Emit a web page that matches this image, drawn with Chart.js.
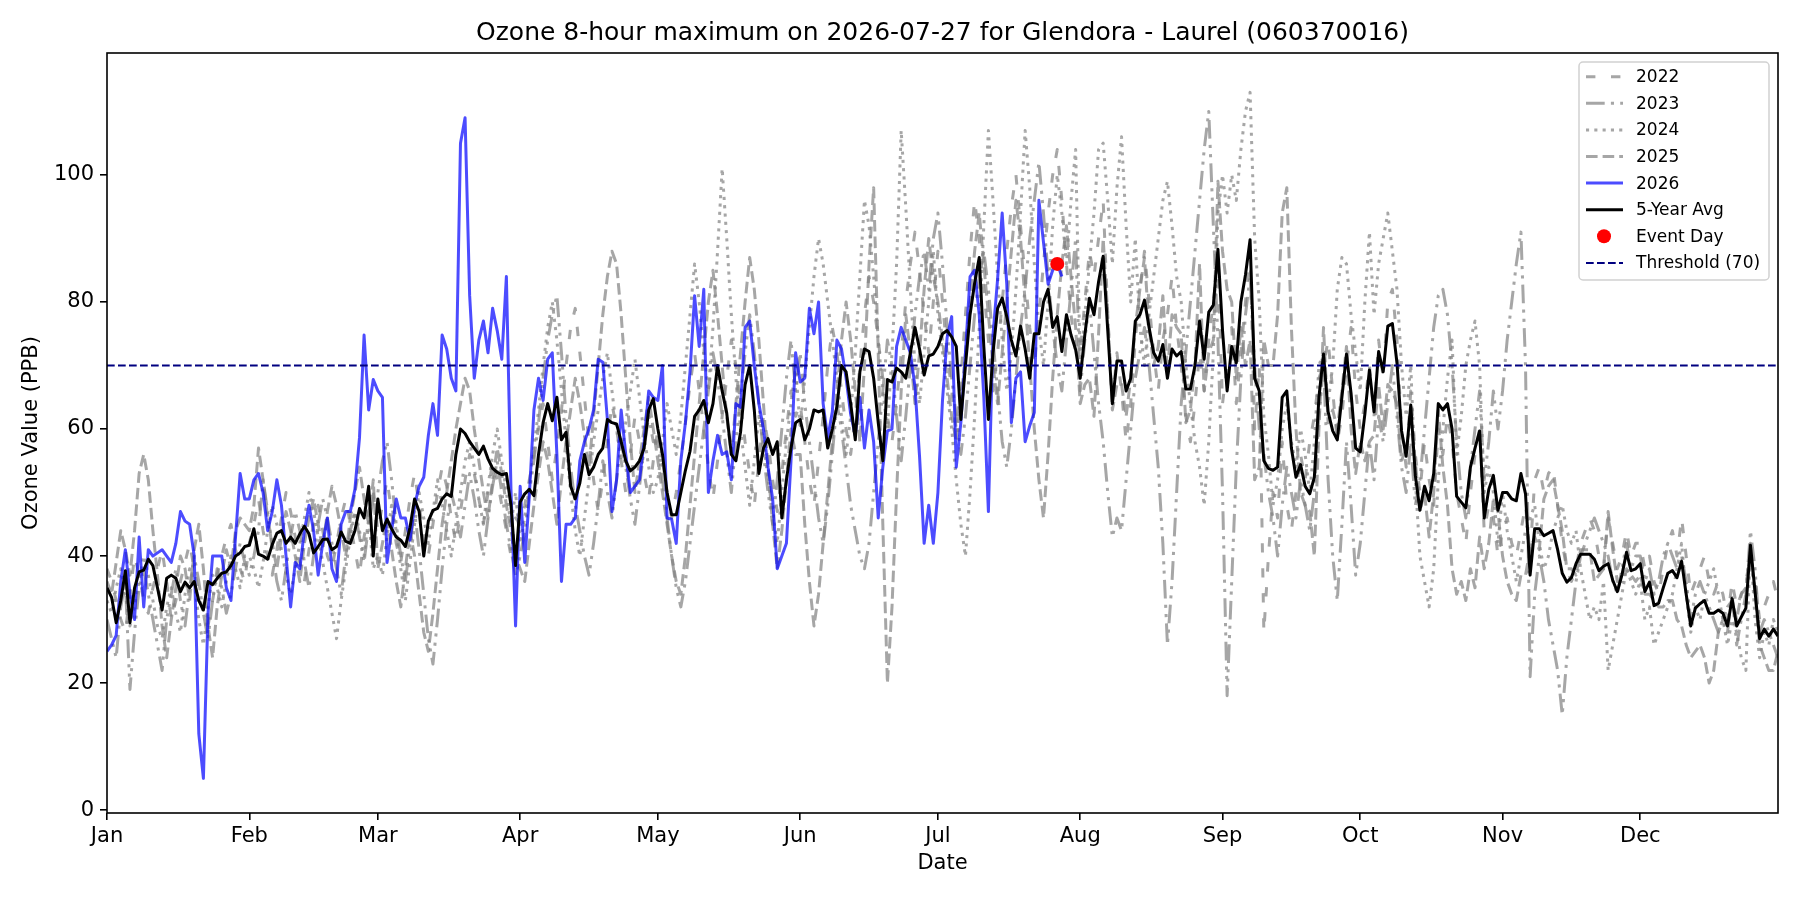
<!DOCTYPE html>
<html><head><meta charset="utf-8">
<script src="https://cdn.jsdelivr.net/npm/chart.js@4.4.1/dist/chart.umd.min.js"></script>
<style>html,body{margin:0;padding:0;background:#fff;}canvas{display:block;}</style>
</head><body>
<canvas id="c" width="1800" height="900"></canvas>
<script>
const TITLE = 'Ozone 8-hour maximum on 2026-07-27 for Glendora - Laurel (060370016)';
const X_LABEL = 'Date';
const Y_LABEL = 'Ozone Value (PPB)';
const MONTH_TICKS = [0,31,59,90,120,151,181,212,243,273,304,334];
const MONTH_LABELS = ['Jan','Feb','Mar','Apr','May','Jun','Jul','Aug','Sep','Oct','Nov','Dec'];
const Y_TICKS = [0,20,40,60,80,100];
const Y_MIN = -0.45, Y_MAX = 119.2, X_MIN = 0, X_MAX = 364;
const THRESHOLD = 70;
const EVENT_DAY = 207;      // 2026-07-27 (day index)
const EVENT_VALUE = 86;

// daily values, Jan 1 .. Dec 31
const Y2022 = [
38,36,33,30,28,34,40,37,33,31,35,38,41,36,30,33,36,39,42,38,34,31,29,33,37,40,43,45,41,38,36,
42,45,49,44,40,37,41,46,50,47,43,39,36,41,45,48,44,40,38,42,46,49,45,41,37,43,47,50,
44,48,52,47,42,39,44,49,53,48,43,40,45,50,54,51,46,42,47,52,56,53,49,45,50,55,52,48,44,40,46,
45,48,52,56,60,64,58,52,57,63,70,76,79,72,65,58,52,47,52,58,64,60,55,50,56,62,58,53,49,55,
60,55,50,46,50,55,61,67,72,66,60,54,49,55,62,68,74,70,64,58,53,48,55,62,58,52,47,53,60,66,62,
64,58,52,48,55,62,70,76,72,66,60,56,62,70,78,84,80,74,68,62,58,64,72,80,86,91,85,78,72,80,
88,80,72,66,60,68,78,88,96,90,82,74,66,72,80,88,95,100,92,84,76,70,78,86,94,100,104,96,86,78,72,
72,80,88,84,90,96,78,64,72,66,58,64,74,82,88,80,72,66,74,78,84,76,70,62,58,64,72,66,74,80,86,
64,70,76,64,72,80,88,60,70,28,40,50,46,58,48,44,50,56,52,58,62,68,70,74,66,58,62,70,76,66,
60,64,70,62,74,68,80,82,74,60,54,66,56,50,58,52,48,60,56,62,58,50,46,42,50,56,60,44,48,46,40,
44,46,42,40,44,48,40,52,54,50,53,54,48,42,38,36,38,42,44,46,44,40,38,46,42,38,40,44,40,42,
42,38,40,36,34,38,42,44,40,46,40,34,36,38,40,36,34,36,34,30,36,32,34,36,40,36,30,32,34,36,33];

const Y2023 = [
30,27,24,32,36,19,28,35,38,34,30,26,22,30,34,38,33,29,35,40,36,31,27,33,38,35,31,34,38,42,39,
37,40,44,52,47,41,36,33,38,43,47,44,39,35,40,45,49,46,42,38,34,40,44,47,43,39,45,49,
50,55,58,52,45,40,36,42,47,41,34,27,23,30,38,45,50,47,43,48,53,49,44,40,46,51,55,50,45,41,37,
40,44,50,55,61,68,74,78,81,72,62,54,48,44,40,37,42,48,55,50,46,52,58,54,49,45,51,57,62,58,
58,52,46,40,35,32,36,42,48,54,60,66,72,68,62,56,50,58,65,72,78,72,64,56,50,45,52,60,68,74,66,
72,64,58,52,46,42,48,56,64,60,54,48,44,40,38,42,50,58,66,74,70,62,55,62,70,78,84,88,82,90,
94,86,76,68,62,56,62,70,78,84,88,82,74,66,58,54,60,68,76,82,90,96,102,94,84,76,70,66,74,82,90,
66,74,80,72,64,58,50,43,46,44,52,60,68,72,76,70,62,54,42,26,36,50,64,72,80,88,96,104,110,92,74,
50,18,36,54,68,78,84,70,60,56,50,46,40,48,54,50,46,52,48,44,50,62,70,52,40,33,45,58,48,37,
42,50,58,52,62,58,64,70,62,54,50,58,48,52,60,68,76,81,82,78,70,58,50,46,54,60,66,52,58,66,60,
66,74,80,86,91,70,21,34,40,36,30,26,22,15,24,30,36,40,42,44,46,44,42,40,36,34,38,42,38,40,
40,36,38,34,36,40,42,40,38,40,36,30,34,36,34,32,30,28,30,28,34,26,30,34,44,38,28,30,28,26,24];

const Y2024 = [
33,31,35,38,34,29,32,36,40,37,33,29,27,32,35,31,28,34,38,36,30,26,32,37,35,32,36,40,38,35,40,
40,38,35,39,44,48,45,41,37,34,38,42,46,50,47,43,39,35,31,27,33,38,43,47,44,40,46,38,
40,37,43,48,44,38,33,39,45,50,46,42,47,52,48,44,40,45,50,55,58,54,49,45,51,56,60,55,50,45,50,
42,46,51,57,63,70,76,80,74,66,58,50,44,40,46,52,58,63,68,72,66,60,55,61,66,71,65,59,54,50,
52,58,64,60,56,62,70,78,86,80,72,66,76,88,101,90,78,68,60,54,48,55,62,58,52,47,42,50,58,64,70,
60,68,76,84,90,86,80,74,68,62,56,62,72,84,96,92,84,74,66,60,72,86,107,95,82,70,64,72,80,88,
78,72,66,60,52,45,40,50,62,76,92,107,96,84,74,66,72,82,94,107,98,86,76,70,80,92,100,94,86,96,104,
70,78,86,94,104,105,96,86,98,106,92,80,90,76,70,78,84,90,96,99,92,84,80,70,64,58,54,48,58,72,94,
100,94,100,96,104,110,113,90,80,62,56,48,52,60,64,58,54,60,56,50,58,70,72,64,70,82,87,86,78,72,
66,80,91,78,86,90,94,88,82,70,62,70,52,40,36,32,38,52,60,68,74,56,62,70,74,77,70,50,54,50,42,
50,44,40,36,40,44,46,48,42,38,40,44,46,48,44,42,44,38,34,30,32,30,36,22,26,30,34,38,36,34,
36,30,32,26,28,30,32,34,38,42,34,28,32,30,34,36,38,34,30,26,30,28,24,22,42,30,24,28,26,30,28];

const Y2025 = [
36,34,39,44,41,37,44,53,56,52,44,37,29,24,30,35,40,38,33,41,45,38,29,24,32,37,41,38,44,46,45,
44,48,57,52,46,42,38,43,47,44,40,36,42,46,49,45,41,47,51,48,44,40,46,50,54,49,45,52,
38,42,46,41,36,32,38,44,40,34,28,25,31,38,45,50,55,60,64,68,66,60,55,50,46,52,57,53,48,44,40,
38,36,42,48,53,58,55,50,45,52,58,63,68,64,59,54,62,70,78,84,88,86,78,68,58,50,55,60,65,60,
55,50,45,40,36,34,40,48,56,64,72,80,85,78,70,62,56,64,72,80,87,82,74,64,54,45,38,44,52,60,56,
56,45,36,29,34,42,50,58,66,74,80,74,66,58,70,86,98,72,45,20,32,50,66,78,72,64,72,82,90,84,
80,74,68,62,58,64,72,80,88,94,86,78,70,64,72,80,88,96,90,80,70,60,52,46,56,68,78,86,92,84,76,
64,67,68,62,75,90,78,63,67,67,62,68,76,82,87,76,70,73,81,69,78,76,75,61,63,70,86,66,72,74,99,
88,82,80,68,76,70,74,52,54,74,70,70,78,94,98,76,60,50,48,47,40,60,76,61,63,60,66,73,60,53,
58,55,58,59,67,60,67,66,64,55,57,61,55,47,50,43,50,63,54,48,38,34,36,33,38,35,43,38,42,49,47,
40,36,34,33,37,37,41,43,41,49,51,52,48,44,38,38,37,41,41,41,36,37,38,47,41,36,36,38,37,36,
37,34,34,33,32,32,33,33,30,29,26,24,25,26,24,20,22,28,30,32,33,30,34,35,41,34,26,24,22,22,25];

// 2026 up to the event window
const Y2026 = [
25,26,27.5,36,41,34,30,43,32,41,
40,40.5,41,40,39,42,47,45.5,45,40,
12,5,31,40,40,40,35,33,43,53,
49,49,52,53,50,44,47,52,48,40,
32,39,38,44,48,44,37,42,46,38,
36,45,47,47,50.5,58.6,74.8,63,67.8,66,
65,39,44,49,46,46,42.5,48,51,52.4,
59,64,59,74.8,72.6,68,66,105,109,81,
68,74,77,72,79,75.5,71,84,50.5,29,
51,39,49.5,63,68,64.5,71,72,56,36,
45,45,46,55,58,60,63,71,70.5,61.5,
47,52,63,56,50,51,52,58,66,65,
64.5,70,46,45.8,42,55,61,69,81,73,
82,50,55,59,56,56.4,52,64,63.4,76,
77,70,64,60,54,49,38,40,42,55,
72,67.4,68,79,75,80,64,58.6,62.7,74,
72.6,68,62.3,59,65,57,63,58,46,54,
59.7,60,73,76,74,72,66.7,55.7,42,48,
42,50,64.5,74.4,77.7,54,61,72,84,85,
78,65,47,74.8,83.6,94,82.8,61,68,69,
58,60.5,62.6,96,89.4,82.8,85,86,84];

const AVG5 = [
35,33.5,29.5,33,37.7,29.5,35,37.5,37.8,39.5,
38.5,35,31.5,36.5,37,36.5,34.4,35.9,35,36,
33,31.5,36,35.5,36.5,37.3,37.5,38.5,40,40.5,
41.5,41.7,44.3,40.3,40,39.5,41.8,43.6,44,42,
43,42,43.5,44.7,43.5,40.5,41.5,42.6,42.7,41,
41.5,43.8,42.3,42,44,47.5,46,51,40,49,
44,45.8,44.3,43,42.5,41.5,44.5,49,47,40,
45.5,47.2,47.5,49,49.8,49.4,56,60,59.3,58,
57,56,57.3,55.3,53.8,53.2,52.8,53,48,38.5,
48.5,49.8,50.5,49.5,56,61,64,61.3,65,58.3,
59.5,51,49,51.5,56,52.8,54,56,57,61.5,
61,60.8,58,55,53.4,54,55,57,63,64.8,
60,56,50,46.5,46.5,50,53.5,56.5,62,63,
64.5,61,64,70,66,62.5,56,55,59.5,67,
70,63,53,57,58.5,56,58,46,52,57,
61,61.5,58.3,60,63,62.7,63,57,60,63.5,
70,69,64,58.3,69,72.6,72.2,68,61,55,
67.8,67.4,69.6,69,68,72,76,72.6,68.5,71.5,
71.8,73,75,75.5,74.5,73,61.5,70,78,83,
87,73,61.5,72,79,80.6,77.7,74,71.5,76.2,
72.6,68,75,75,80,82,76,77.7,72.2,78,
74.8,72.5,68,74.8,80.6,78,83.2,87.2,75.5,64,
70.7,70.7,66,68,77,78,80.3,76,72,70.7,
73.3,68,72.6,71.5,72.2,66.3,66.3,70,77,71,
78.4,79.5,88.3,75.5,66,73,70.4,80,84.3,89.8,
68,66,55,53.8,53.5,54,65,66,57,52.4,
54.4,51,49.8,52.4,65,71.8,62.7,59.7,58.3,65,
71.8,65.6,57,56.4,62.3,69.3,62.7,72.2,69,76.2,
76.6,70.4,59.7,55.7,63.8,52.7,47.2,51,48.7,53,
64,63,64,60,49.4,48.5,47.6,54,57,59.7,
46,50.5,52.7,47.2,50,50,49,48.7,53,49.8,
37,44.3,44.3,43.2,43.6,44,41,37.3,35.9,36.6,
38.8,40.3,40.3,40.3,39.5,37.7,38.4,38.8,36.2,34.4,
37,40.6,37.7,38,38.8,34.4,35.9,32.2,32.6,35,
37.3,37.7,36.6,39.2,34,29,31.8,32.5,33,31,
31,31.5,31,29,33.3,29,30.4,31.8,41.7,34.4,
27,28.5,27.4,28.5,27.4];

const FONT = 'DejaVu Sans';
Chart.defaults.font.family = FONT;
Chart.defaults.color = '#000';

function pts(arr){ return arr.map((v,i)=>({x:i, y:v})); }
const GRAY = 'rgba(128,128,128,0.7)';
const lineBase = {pointRadius:0, pointHoverRadius:0, fill:false, tension:0, borderCapStyle:'butt', borderJoinStyle:'round'};

const datasets = [
  Object.assign({label:'2022', data:pts(Y2022), borderColor:GRAY, borderWidth:3, borderDash:[9.4,15.6], order:9}, lineBase),
  Object.assign({label:'2023', data:pts(Y2023), borderColor:GRAY, borderWidth:3, borderDash:[18.7,6.2,3.1,6.2,3.1,6.2], order:8}, lineBase),
  Object.assign({label:'2024', data:pts(Y2024), borderColor:GRAY, borderWidth:3, borderDash:[3.1,5.2], order:7}, lineBase),
  Object.assign({label:'2025', data:pts(Y2025), borderColor:GRAY, borderWidth:3, borderDash:[11.6,5], order:6}, lineBase),
  Object.assign({label:'2026', data:pts(Y2026), borderColor:'rgba(0,0,255,0.7)', borderWidth:3, borderDash:[], order:5}, lineBase),
  Object.assign({label:'5-Year Avg', data:pts(AVG5), borderColor:'#000000', borderWidth:3, borderDash:[], order:4}, lineBase),
  {label:'Event Day', data:[{x:EVENT_DAY, y:EVENT_VALUE}], showLine:false, pointRadius:7, pointHoverRadius:7,
   pointBackgroundColor:'#ff0000', pointBorderColor:'#ff0000', pointBorderWidth:0, borderColor:'#ff0000', backgroundColor:'#ff0000', order:1, isMarker:true},
  Object.assign({label:'Threshold (70)', data:[{x:X_MIN, y:THRESHOLD},{x:X_MAX, y:THRESHOLD}], borderColor:'#000080', borderWidth:2, borderDash:[7.7,3.3], order:2}, lineBase)
];

const spinesPlugin = {
  id:'spines',
  afterDatasetsDraw(chart){
    const a = chart.chartArea, ctx = chart.ctx;
    ctx.save();
    ctx.strokeStyle = '#000'; ctx.lineWidth = 1.6; ctx.setLineDash([]);
    ctx.strokeRect(a.left, a.top, a.right - a.left, a.bottom - a.top);
    ctx.restore();
  }
};

const legendPlugin = {
  id:'mplLegend',
  afterDraw(chart){
    const ctx = chart.ctx;
    const bx = 1579, by = 62, bw = 190, bh = 218, r = 4;
    ctx.save();
    ctx.beginPath();
    ctx.moveTo(bx + r, by); ctx.lineTo(bx + bw - r, by); ctx.arcTo(bx + bw, by, bx + bw, by + r, r);
    ctx.lineTo(bx + bw, by + bh - r); ctx.arcTo(bx + bw, by + bh, bx + bw - r, by + bh, r);
    ctx.lineTo(bx + r, by + bh); ctx.arcTo(bx, by + bh, bx, by + bh - r, r);
    ctx.lineTo(bx, by + r); ctx.arcTo(bx, by, bx + r, by, r); ctx.closePath();
    ctx.fillStyle = 'rgba(255,255,255,0.8)'; ctx.fill();
    ctx.strokeStyle = 'rgba(204,204,204,0.9)'; ctx.lineWidth = 1.5; ctx.stroke();
    ctx.font = '17px "' + FONT + '"';
    ctx.textBaseline = 'middle';
    chart.data.datasets.forEach((ds, i) => {
      const y = 76.7 + i * 26.6;
      if (ds.isMarker) {
        ctx.beginPath(); ctx.arc(1604, y, 7, 0, Math.PI * 2);
        ctx.fillStyle = ds.pointBackgroundColor; ctx.fill();
      } else {
        ctx.beginPath(); ctx.setLineDash(ds.borderDash || []);
        ctx.strokeStyle = ds.borderColor; ctx.lineWidth = ds.borderWidth; ctx.lineCap = 'butt';
        ctx.moveTo(1586, y); ctx.lineTo(1623, y); ctx.stroke(); ctx.setLineDash([]);
      }
      ctx.fillStyle = '#000';
      ctx.fillText(ds.label, 1636, y + 1);
    });
    ctx.restore();
  }
};

new Chart(document.getElementById('c'), {
  type:'line',
  data:{datasets},
  options:{
    responsive:false, animation:false, devicePixelRatio:1,
    events:[],
    layout:{padding:{left:0, right:22, top:0, bottom:0}},
    plugins:{
      legend:{display:false}, tooltip:{enabled:false},
      title:{display:true, text:TITLE, fullSize:false, color:'#000',
        font:{size:25, family:FONT, weight:'normal'}, padding:{top:18, bottom:5}}
    },
    scales:{
      x:{type:'linear', min:X_MIN, max:X_MAX,
        afterBuildTicks(s){ s.ticks = MONTH_TICKS.map(v => ({value:v})); },
        afterFit(s){ s.height = 87; },
        ticks:{autoSkip:false, maxRotation:0, minRotation:0, padding:4, color:'#000', font:{size:21},
          callback:(v, i) => MONTH_LABELS[i]},
        grid:{drawOnChartArea:false, drawTicks:true, tickLength:7, color:'#000', lineWidth:1.6},
        border:{display:false},
        title:{display:true, text:X_LABEL, color:'#000', font:{size:21}, padding:{top:0, bottom:24}}
      },
      y:{type:'linear', min:Y_MIN, max:Y_MAX,
        afterBuildTicks(s){ s.ticks = Y_TICKS.map(v => ({value:v})); },
        afterFit(s){ s.width = 107; },
        ticks:{padding:6, color:'#000', font:{size:21}},
        grid:{drawOnChartArea:false, drawTicks:true, tickLength:7, color:'#000', lineWidth:1.6},
        border:{display:false},
        title:{display:true, text:Y_LABEL, color:'#000', font:{size:21}, padding:{top:19, bottom:0}}
      }
    }
  },
  plugins:[spinesPlugin, legendPlugin]
});
</script>
</body></html>
